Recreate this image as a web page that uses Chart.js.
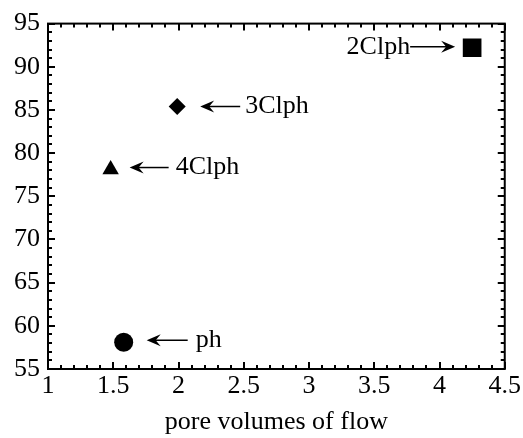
<!DOCTYPE html>
<html>
<head>
<meta charset="utf-8">
<script src="https://cdn.jsdelivr.net/npm/chart.js@4/dist/chart.umd.min.js"></script>
<style>
  html, body { margin: 0; padding: 0; background: #fff; }
</style>
</head>
<body>
<canvas id="chart" width="523" height="438"></canvas>
<script>
// values
const compounds = ['ph', '4Clph', '3Clph', '2Clph'];
const poreVolumes = [1.58, 1.48, 1.99, 4.25];
const removal = [58.1, 78.1, 85.4, 92.2];
const markers = ['circle', 'triangle', 'rectRot', 'rect'];
const markerSizes = [9.5, 9.5, 8.5, 13.2];

const xTicks = [1, 1.5, 2, 2.5, 3, 3.5, 4, 4.5];
const yTicks = [55, 60, 65, 70, 75, 80, 85, 90, 95];

// where each label and arrow sits relative to its point (pixels)
const labelLayout = {
    'ph':    { side: 'right', tip: 23, tail: 64, text: 72, dy: -2 },
    '4Clph': { side: 'right', tip: 19, tail: 58, text: 65, dy: -2 },
    '3Clph': { side: 'right', tip: 23, tail: 63, text: 68, dy: 0 },
    '2Clph': { side: 'left',  tip: 17, tail: 62, text: 62, dy: -1 }
};

const FONT = "'Liberation Serif', 'Times New Roman', serif";
const FONT_SIZE = 26;

function drawArrow(ctx, xTail, xTip, y) {
    const dir = xTip > xTail ? 1 : -1;
    ctx.beginPath();
    ctx.moveTo(xTail, y);
    ctx.lineTo(xTip - dir * 8, y);
    ctx.lineWidth = 1.5;
    ctx.stroke();
    // notched head
    ctx.beginPath();
    ctx.moveTo(xTip, y);
    ctx.lineTo(xTip - dir * 14, y - 6);
    ctx.lineTo(xTip - dir * 9, y);
    ctx.lineTo(xTip - dir * 14, y + 6);
    ctx.closePath();
    ctx.fill();
}

const frameAndLabels = {
    id: 'frameAndLabels',
    afterDatasetsDraw(chart) {
        const ctx = chart.ctx;
        const xs = chart.scales.x, ys = chart.scales.y;
        const a = chart.chartArea;
        ctx.save();
        ctx.strokeStyle = '#000';
        ctx.fillStyle = '#000';

        // inward ticks on all four sides
        ctx.lineWidth = 2;
        ctx.beginPath();
        for (let v = 10; v <= 45; v++) {
            const px = Math.round(xs.getPixelForValue(v / 10));
            const len = v % 5 === 0 ? 7 : 4;
            ctx.moveTo(px, a.bottom); ctx.lineTo(px, a.bottom - len);
            ctx.moveTo(px, a.top); ctx.lineTo(px, a.top + len);
        }
        for (let v = 55; v <= 95; v++) {
            const py = Math.round(ys.getPixelForValue(v));
            const len = v % 5 === 0 ? 7 : 4;
            ctx.moveTo(a.left, py); ctx.lineTo(a.left + len, py);
            ctx.moveTo(a.right, py); ctx.lineTo(a.right - len, py);
        }
        ctx.stroke();
        ctx.strokeRect(a.left, a.top, a.right - a.left, a.bottom - a.top);

        // arrows and compound names
        ctx.font = FONT_SIZE + 'px ' + FONT;
        ctx.textBaseline = 'middle';
        compounds.forEach((name, i) => {
            const L = labelLayout[name];
            const px = xs.getPixelForValue(poreVolumes[i]);
            const py = ys.getPixelForValue(removal[i]) + L.dy;
            if (L.side === 'right') {
                drawArrow(ctx, px + L.tail, px + L.tip, py);
                ctx.textAlign = 'left';
                ctx.fillText(name, px + L.text, py);
            } else {
                drawArrow(ctx, px - L.tail, px - L.tip, py);
                ctx.textAlign = 'right';
                ctx.fillText(name, px - L.text, py);
            }
        });
        ctx.restore();
    }
};

new Chart(document.getElementById('chart'), {
    type: 'scatter',
    data: {
        datasets: [{
            data: poreVolumes.map((x, i) => ({ x: x, y: removal[i] })),
            pointStyle: markers,
            pointRadius: markerSizes,
            pointHoverRadius: markerSizes,
            backgroundColor: '#000',
            borderColor: '#000',
            borderWidth: 0,
            showLine: false
        }]
    },
    options: {
        responsive: false,
        animation: false,
        layout: { padding: { top: 21, right: 17, left: 0, bottom: 0 } },
        plugins: {
            legend: { display: false },
            tooltip: { enabled: false }
        },
        scales: {
            x: {
                type: 'linear',
                min: 1, max: 4.5,
                afterBuildTicks: s => { s.ticks = xTicks.map(v => ({ value: v })); },
                afterFit: s => { s.height = 69; },
                grid: { display: false, drawTicks: false },
                border: { display: false },
                ticks: {
                    color: '#000', padding: 2, maxRotation: 0,
                    font: { family: FONT, size: FONT_SIZE },
                    callback: v => String(v)
                },
                title: {
                    display: true,
                    text: 'pore volumes of flow',
                    color: '#000',
                    font: { family: FONT, size: FONT_SIZE },
                    padding: { top: 0, bottom: 0 }
                }
            },
            y: {
                type: 'linear',
                min: 55, max: 95,
                afterBuildTicks: s => { s.ticks = yTicks.map(v => ({ value: v })); },
                afterFit: s => { s.width = 48; },
                grid: { display: false, drawTicks: false },
                border: { display: false },
                ticks: {
                    color: '#000', padding: 8,
                    font: { family: FONT, size: FONT_SIZE },
                    callback: v => String(v)
                }
            }
        }
    },
    plugins: [frameAndLabels]
});
</script>
</body>
</html>
